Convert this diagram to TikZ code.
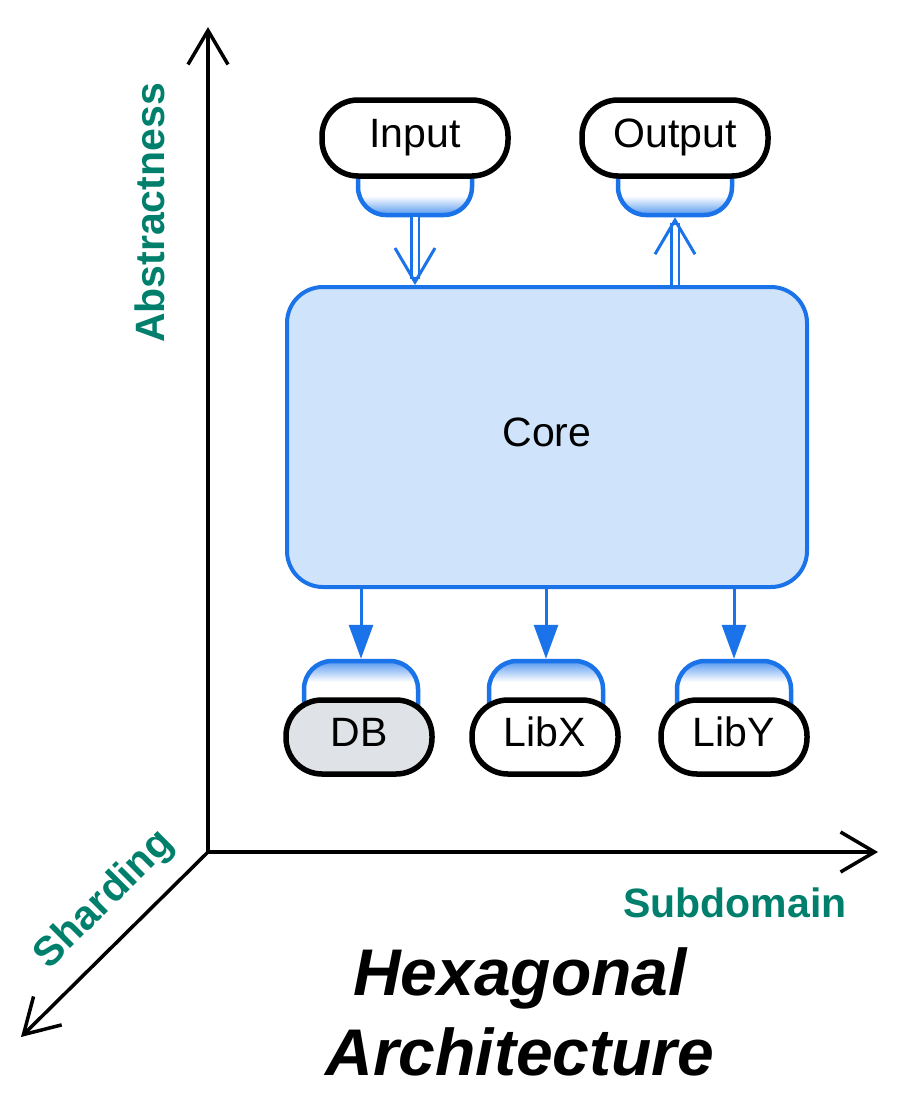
\documentclass[tikz,border=0pt]{standalone}
\usepackage{fontspec}
\setmainfont{Liberation Sans}
\usetikzlibrary{arrows.meta}
\definecolor{hexblue}{RGB}{26,115,232}
\definecolor{shadeblue}{RGB}{85,152,240}
\definecolor{corefill}{RGB}{207,227,251}
\definecolor{dbfill}{RGB}{223,226,231}
\definecolor{axisgreen}{RGB}{0,128,108}
% adapter shadings: blue on the free edge, white under the port
\pgfdeclareverticalshading{blueonbottom}{100bp}{color(0bp)=(shadeblue); color(25bp)=(shadeblue); color(37bp)=(white); color(100bp)=(white)}
\pgfdeclareverticalshading{blueontop}{100bp}{color(0bp)=(white); color(62bp)=(white); color(75bp)=(shadeblue); color(100bp)=(shadeblue)}

\begin{document}
\begin{tikzpicture}[x=1pt,y=-1pt,
	port/.style={draw,line width=5.5pt,rounded corners=36pt,minimum width=186pt,minimum height=76pt,fill=white,inner sep=0pt,text height=29pt,text depth=10pt,font=\fontsize{41}{48}\selectfont},
	adapter/.style={draw=hexblue,line width=4.5pt,rounded corners=28pt,minimum width=114pt,minimum height=80pt,inner sep=0pt},
	flow/.style={draw=hexblue,line width=3pt,-{Triangle[length=34pt,width=24pt]}},
	dflow/.style={draw=hexblue,line width=2.5pt,double=white,double distance=5pt,shorten >=6pt},
	dtip/.style={draw=hexblue,line width=3pt,-{Straight Barb[length=34pt,width=40pt]},shorten <=60pt},
	axis/.style={line width=3.5pt},
	axislabel/.style={text=axisgreen,font=\fontsize{41}{48}\selectfont\bfseries}]
	\useasboundingbox (0,0) rectangle (904,1104);
	% axes
	\coordinate (origin) at (208,852);
	\coordinate (abstip) at (208,27);
	\coordinate (subtip) at (878,852);
	\coordinate (shardtip) at (21,1037);
	\draw[axis,{Straight Barb[length=34pt,width=40pt]}-{Straight Barb[length=34pt,width=40pt]}] (abstip) -- (origin) -- (subtip);
	\draw[axis,-{Straight Barb[length=34pt,width=40pt]}] (origin) -- (shardtip);
	\node[axislabel,rotate=90] (abslabel) at (150,213) {Abstractness};
	\node[axislabel,rotate=45] (shardlabel) at (105,900) {Sharding};
	\node[axislabel] (sublabel) at (735,903) {Subdomain};
	% core
	\node[draw=hexblue,fill=corefill,line width=4pt,rounded corners=36pt,minimum width=520pt,minimum height=300pt,inner sep=0pt,text height=29pt,text depth=10pt,font=\fontsize{41}{48}\selectfont] (core) at (547,437) {Core};
	% driving side
	\node[adapter,shade,shading=blueonbottom] (inA) at (415,175) {};
	\node[port] (in) at (415,138) {Input};
	\node[adapter,shade,shading=blueonbottom] (outA) at (675,175) {};
	\node[port] (out) at (675,138) {Output};
	\draw[dflow] (inA.south) -- (core.north -| inA.south);
	\draw[dtip] (inA.south) -- (core.north -| inA.south);
	\draw[dflow] (core.north -| outA.south) -- (outA.south);
	\draw[dtip] (core.north -| outA.south) -- (outA.south);
	% driven side
	\node[adapter,shade,shading=blueontop] (dbA) at (361,701) {};
	\node[port,fill=dbfill,minimum width=146pt,minimum height=74pt] (db) at (359,737) {DB};
	\node[adapter,shade,shading=blueontop] (libxA) at (546,701) {};
	\node[port,minimum width=146pt,minimum height=74pt] (libx) at (545,737) {LibX};
	\node[adapter,shade,shading=blueontop] (libyA) at (734,701) {};
	\node[port,minimum width=146pt,minimum height=74pt] (liby) at (734,737) {LibY};
	\draw[flow] (core.south -| dbA.north) -- (dbA.north);
	\draw[flow] (core.south -| libxA.north) -- (libxA.north);
	\draw[flow] (core.south -| libyA.north) -- (libyA.north);
	% title
	\node[font=\fontsize{66}{78}\selectfont\bfseries\itshape,anchor=base] (title) at (520,995) {Hexagonal};
	\node[font=\fontsize{66}{78}\selectfont\bfseries\itshape,anchor=base] (subtitle) at (520,1075) {Architecture};
\end{tikzpicture}
\end{document}
